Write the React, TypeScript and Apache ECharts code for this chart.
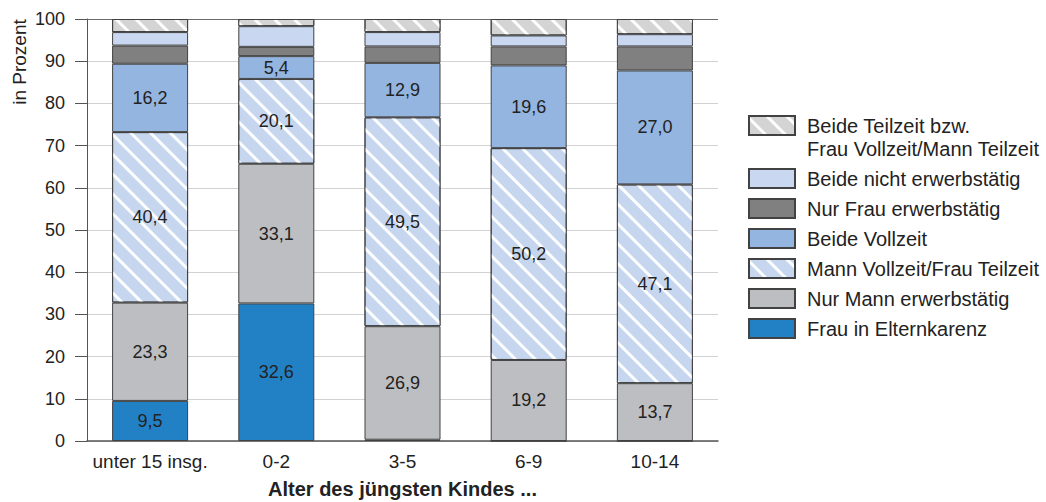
import { useEffect, useRef } from "react";
import * as echarts from "echarts";

// Age groups of the youngest child
const categories = ["unter 15 insg.", "0-2", "3-5", "6-9", "10-14"];

// Shares in percent, stacked from bottom to top
const elternkarenz = [9.5, 32.6, 0.3, 0, 0];
const nurMann = [23.3, 33.1, 26.9, 19.2, 13.7];
const mannVzFrauTz = [40.4, 20.1, 49.5, 50.2, 47.1];
const beideVollzeit = [16.2, 5.4, 12.9, 19.6, 27.0];
const nurFrau = [4.3, 2.2, 3.9, 4.5, 5.7];
const beideNicht = [3.2, 4.9, 3.4, 2.6, 2.9];
const beideTeilzeit = [3.1, 1.7, 3.1, 3.9, 3.6];

const yMin = 0;
const yMax = 100;
const yStep = 10;

const FONT = "'Liberation Sans', Arial, Helvetica, sans-serif";
const BORDER = "#424242";

// White diagonal hatching running from top-left to bottom-right
const stripes = {
  symbol: "rect",
  symbolSize: 1,
  color: "rgba(255,255,255,0.95)",
  dashArrayX: [1, 0],
  dashArrayY: [3, 11],
  rotation: Math.PI / 4,
};

const fmt = (v: number) => v.toFixed(1).replace(".", ",");

const LONG_NAME = "Beide Teilzeit bzw. Frau Vollzeit/Mann Teilzeit";

export default function App() {
  const ref = useRef<HTMLDivElement>(null);

  useEffect(() => {
    document.body.style.margin = "0";
    if (!ref.current) return;
    const chart = echarts.init(ref.current, undefined, { renderer: "svg" });

    const labelled = (show: boolean) => ({
      show,
      position: "inside",
      color: "#222",
      fontSize: 18,
      fontFamily: FONT,
      formatter: (p: any) => (p.value >= 3 ? fmt(p.value) : ""),
    });

    const mk = (name: string, data: number[], color: string, label: boolean, decal?: any) => ({
      name,
      type: "bar",
      stack: "total",
      barWidth: 76,
      data,
      itemStyle: {
        color,
        borderColor: BORDER,
        borderWidth: 1,
        ...(decal ? { decal } : {}),
      },
      label: labelled(label),
      emphasis: { disabled: true },
    });

    const gridColors = Array.from({ length: (yMax - yMin) / yStep + 1 }, (_, i) =>
      i === (yMax - yMin) / yStep ? "#6a6a6a" : "#d2d2d2"
    );

    chart.setOption({
      animation: false,
      textStyle: { fontFamily: FONT },
      grid: {
        left: 87,
        right: 328,
        top: 19,
        bottom: 61,
        containLabel: false,
        outerBoundsMode: "none",
      },
      xAxis: {
        type: "category",
        data: categories,
        axisTick: { show: false },
        axisLine: { lineStyle: { color: "#555", width: 1.5 } },
        axisLabel: { color: "#222", fontSize: 19, margin: 11, interval: 0, fontFamily: FONT },
        name: "Alter des jüngsten Kindes ...",
        nameLocation: "middle",
        nameGap: 38,
        nameTextStyle: { color: "#222", fontSize: 20, fontWeight: "bold", fontFamily: FONT },
      },
      yAxis: {
        type: "value",
        min: yMin,
        max: yMax,
        interval: yStep,
        axisLine: { show: true, lineStyle: { color: "#555" } },
        axisTick: { show: true, length: 12, lineStyle: { color: "#555" } },
        axisLabel: { color: "#222", fontSize: 18, margin: 22, fontFamily: FONT },
        splitLine: { show: true, lineStyle: { color: gridColors, width: 1 } },
      },
      legend: [
        {
          orient: "vertical",
          left: 748,
          top: 91,
          padding: 0,
          icon: "rect",
          itemWidth: 46,
          itemHeight: 19,
          selectedMode: false,
          data: [LONG_NAME],
          // leading blank line keeps the first text line level with the swatch
          formatter: () => "\nBeide Teilzeit bzw.\nFrau Vollzeit/Mann Teilzeit",
          textStyle: {
            color: "#222",
            fontSize: 20,
            lineHeight: 23,
            padding: [0, 0, 0, 7],
            fontFamily: FONT,
          },
        },
        {
          orient: "vertical",
          left: 748,
          top: 168,
          padding: 0,
          icon: "rect",
          itemWidth: 46,
          itemHeight: 19,
          itemGap: 9,
          selectedMode: false,
          data: [
            "Beide nicht erwerbstätig",
            "Nur Frau erwerbstätig",
            "Beide Vollzeit",
            "Mann Vollzeit/Frau Teilzeit",
            "Nur Mann erwerbstätig",
            "Frau in Elternkarenz",
          ],
          textStyle: {
            color: "#222",
            fontSize: 20,
            lineHeight: 20,
            padding: [0, 0, 0, 7],
            fontFamily: FONT,
          },
        },
      ],
      graphic: [
        {
          type: "text",
          x: 19,
          y: 62,
          rotation: Math.PI / 2,
          style: {
            text: "in Prozent",
            fontSize: 19,
            fontFamily: FONT,
            fill: "#222",
            align: "center",
            verticalAlign: "middle",
          },
        },
      ],
      series: [
        mk("Frau in Elternkarenz", elternkarenz, "#2281c4", true),
        mk("Nur Mann erwerbstätig", nurMann, "#bdbec1", true),
        mk("Mann Vollzeit/Frau Teilzeit", mannVzFrauTz, "#c6d6ef", true, stripes),
        mk("Beide Vollzeit", beideVollzeit, "#94b5e0", true),
        mk("Nur Frau erwerbstätig", nurFrau, "#808080", false),
        mk("Beide nicht erwerbstätig", beideNicht, "#c9d8f0", false),
        mk(LONG_NAME, beideTeilzeit, "#d4d4d4", false, stripes),
      ],
    });

    return () => chart.dispose();
  }, []);

  return <div ref={ref} style={{ width: 1046, height: 502 }} />;
}
